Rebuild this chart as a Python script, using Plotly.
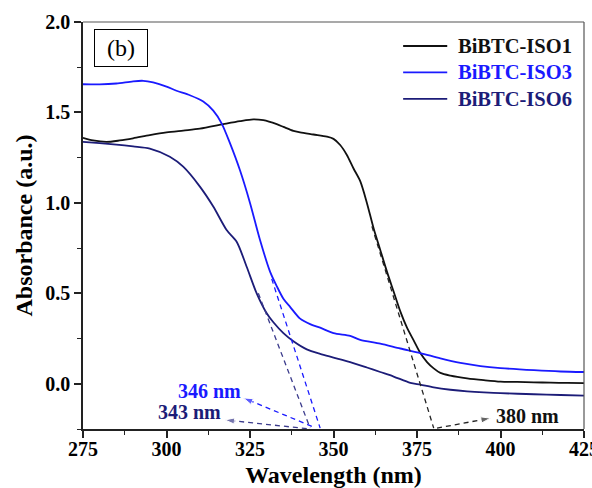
import plotly.graph_objects as go

# UV-Vis absorbance spectra of BiBTC samples
iso1_nm = [275, 278, 282, 286, 290, 295, 300, 305, 310, 317, 322, 326, 329, 333, 335, 338,
           340, 344, 348, 350, 352, 354, 356, 358, 360, 362, 364, 366, 368, 370, 372, 374,
           376, 378, 380, 382, 385, 390, 395, 400, 405, 410, 415, 420, 425]
iso1_abs = [1.36, 1.345, 1.337, 1.345, 1.357, 1.375, 1.39, 1.40, 1.41, 1.435, 1.452, 1.462,
            1.457, 1.435, 1.42, 1.398, 1.39, 1.378, 1.366, 1.354, 1.32, 1.265, 1.19, 1.12,
            1.00, 0.86, 0.74, 0.62, 0.51, 0.40, 0.31, 0.24, 0.17, 0.12, 0.085, 0.06, 0.045,
            0.03, 0.02, 0.012, 0.01, 0.008, 0.006, 0.005, 0.004]

iso3_nm = [275, 280, 285, 290, 293, 296, 300, 303, 307, 311, 314, 316.5, 319, 322, 325, 328,
           331, 333, 335, 337, 340, 343, 346, 350, 355, 358, 364, 370, 376, 382, 388, 394,
           400, 410, 418, 425]
iso3_abs = [1.656, 1.655, 1.66, 1.672, 1.675, 1.666, 1.643, 1.62, 1.595, 1.56, 1.51, 1.44,
            1.33, 1.18, 1.0, 0.795, 0.62, 0.54, 0.47, 0.425, 0.36, 0.33, 0.31, 0.28, 0.265,
            0.243, 0.222, 0.195, 0.17, 0.14, 0.115, 0.098, 0.087, 0.075, 0.068, 0.065]

iso6_nm = [275, 280, 285, 290, 295, 301, 305, 310, 314, 318, 321, 324, 327, 330, 332, 335,
           338, 342, 346, 350, 355, 360, 364, 368, 373, 376, 380, 385, 390, 395, 400, 410,
           418, 425]
iso6_abs = [1.337, 1.33, 1.322, 1.312, 1.30, 1.255, 1.20, 1.09, 0.98, 0.85, 0.785, 0.647,
            0.50, 0.39, 0.34, 0.28, 0.235, 0.19, 0.165, 0.145, 0.12, 0.09, 0.065, 0.04, 0.005,
            -0.005, -0.02, -0.033, -0.042, -0.048, -0.052, -0.058, -0.062, -0.065]

# Band-edge tangent lines (start point on the curve, end at the baseline intercept)
edge_iso1 = [(361.5, 0.87), (380, -0.245)]
edge_iso3 = [(331.5, 0.58), (346, -0.245)]
edge_iso6 = [(327.5, 0.50), (343, -0.245)]

# Leader arrows: (tail, head) and label anchor
arrow_iso1 = [(381, -0.245), (397, -0.19)]
arrow_iso3 = [(343.5, -0.235), (323, -0.078)]
arrow_iso6 = [(342, -0.248), (317.5, -0.2)]
label_iso1 = ("380 nm", 408, -0.18)
label_iso3 = ("346 nm", 312.8, -0.042)
label_iso6 = ("343 nm", 306.9, -0.158)

# Legend entries
legend_names = ["BiBTC-ISO1", "BiBTC-ISO3", "BiBTC-ISO6"]

C_BLACK = "#111111"
C_BLUE = "#1a1aff"
C_NAVY = "#1c1c78"
C_NAVY_DASH = "#3b3b8c"
SERIF = "Liberation Serif"
series_colors = [C_BLACK, C_BLUE, C_NAVY]

fig = go.Figure()

for xs, ys, name, col in zip([iso1_nm, iso3_nm, iso6_nm], [iso1_abs, iso3_abs, iso6_abs],
                             legend_names, series_colors):
    fig.add_trace(go.Scatter(x=xs, y=ys, mode="lines",
                             line=dict(color=col, width=1.8, shape="spline", smoothing=0.8),
                             name=name, showlegend=False))


def dashed(points, color):
    fig.add_trace(go.Scatter(x=[p[0] for p in points], y=[p[1] for p in points], mode="lines",
                             line=dict(color=color, width=1.3, dash="5px,4px"),
                             showlegend=False, hoverinfo="skip"))


def arrow(points, color):
    fig.add_trace(go.Scatter(x=[p[0] for p in points], y=[p[1] for p in points],
                             mode="lines+markers",
                             line=dict(color=color, width=1.3, dash="5px,4px"),
                             marker=dict(symbol="arrow", angleref="previous", size=[0, 10],
                                         color=color),
                             showlegend=False, hoverinfo="skip"))


dashed(edge_iso1, "#222222")
dashed(edge_iso3, C_BLUE)
dashed(edge_iso6, C_NAVY_DASH)
arrow(arrow_iso1, "#222222")
arrow(arrow_iso3, C_BLUE)
arrow(arrow_iso6, C_NAVY_DASH)

for (txt, x, y), col in [(label_iso1, C_BLACK), (label_iso3, C_BLUE), (label_iso6, C_NAVY)]:
    fig.add_annotation(x=x, y=y, text=f"<b>{txt}</b>", showarrow=False,
                       font=dict(family=SERIF, size=20, color=col),
                       xanchor="center", yanchor="middle")

# legend block in the upper right corner (paper coordinates)
row_y = [0.941, 0.876, 0.811]
for name, col, yy in zip(legend_names, series_colors, row_y):
    fig.add_shape(type="line", xref="paper", yref="paper", x0=0.639, x1=0.727, y0=yy, y1=yy,
                  line=dict(color=col, width=1.8))
    fig.add_annotation(xref="paper", yref="paper", x=0.744, y=yy, text=f"<b>{name}</b>",
                       showarrow=False, xanchor="left", yanchor="middle",
                       font=dict(family=SERIF, size=20.5, color=col))

# thin top and right frame lines
fig.add_shape(type="line", xref="paper", yref="paper", x0=0, x1=1, y0=1, y1=1,
              line=dict(color="#555555", width=1.2))
fig.add_shape(type="line", xref="paper", yref="paper", x0=1, x1=1, y0=0, y1=1,
              line=dict(color="#555555", width=1.2))

# panel label
fig.add_annotation(x=286.5, y=1.859, text="(b)", showarrow=False,
                   font=dict(family=SERIF, size=24, color="black"),
                   bordercolor="black", borderwidth=1, borderpad=1, width=50, height=34,
                   xanchor="center", yanchor="middle")

axis_common = dict(
    showgrid=False, zeroline=False,
    showline=True, linecolor="#222222", linewidth=1.6, mirror=False,
    ticks="outside", ticklen=7, tickwidth=1.5, tickcolor="#222222",
    tickfont=dict(family=SERIF, size=20, color="black", weight="bold"),
    ticklabeloverflow="allow",
)

fig.update_xaxes(**axis_common, range=[275, 425], tick0=275, dtick=25,
                 ticklabelstandoff=-6,
                 minor=dict(ticks="outside", ticklen=4, tickwidth=1.2, tickcolor="#222222",
                            tick0=275, dtick=12.5),
                 title=dict(text="Wavelength (nm)", standoff=12,
                            font=dict(family=SERIF, size=24, color="black", weight="bold")))
fig.update_yaxes(**axis_common, range=[-0.25, 2.0], tick0=0, dtick=0.5, tickformat=".1f",
                 minor=dict(ticks="outside", ticklen=4, tickwidth=1.2, tickcolor="#222222",
                            tick0=0, dtick=0.25),
                 title=dict(text="Absorbance (a.u.)", standoff=6,
                            font=dict(family=SERIF, size=24, color="black", weight="bold")))

fig.update_layout(
    width=592, height=488,
    margin=dict(l=83, r=8, t=22, b=59, autoexpand=False),
    paper_bgcolor="white", plot_bgcolor="white",
    showlegend=False,
)

fig.write_html("out.html")
